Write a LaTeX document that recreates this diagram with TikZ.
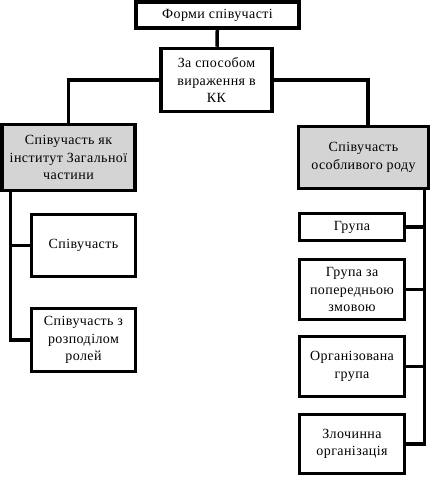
\documentclass[tikz,border=0pt]{standalone}
\usepackage{fontspec}
\setmainfont{Liberation Serif}[LetterSpace=3]
\begin{document}
\begin{tikzpicture}[x=1pt,y=-1pt,
  box/.style={draw=black,line width=3.5pt,fill=white,align=center,inner sep=1pt,
    font=\fontsize{14}{17.5}\selectfont},
  greybox/.style={box,fill={rgb,255:red,212;green,212;blue,212}},
  conn/.style={draw=black,line width=3.5pt}]
\useasboundingbox (0,0) rectangle (436,477);
\node[box,minimum width=163pt,minimum height=26pt] (b1) at (217.5,15) {Форми співучасті};
\node[box,minimum width=111pt,minimum height=63pt] (b2) at (216.5,80) {За способом\\вираження в\\КК};
\node[greybox,minimum width=133pt,minimum height=66pt] (b3) at (68.5,157.5) {Співучасть як\\інститут Загальної\\частини};
\node[greybox,minimum width=130pt,minimum height=62pt] (b4) at (363.5,157.5) {Співучасть\\особливого роду};
\node[box,minimum width=104pt,minimum height=62pt] (b5) at (83.5,245.5) {Співучасть};
\node[box,minimum width=104pt,minimum height=63pt] (b6) at (83.5,340) {Співучасть з\\розподілом\\ролей};
\node[box,minimum width=105pt,minimum height=27pt] (b7) at (352,227) {Група};
\node[box,minimum width=105pt,minimum height=60pt] (b8) at (352,289.5) {Група за\\попередньою\\змовою};
\node[box,minimum width=105pt,minimum height=60pt] (b9) at (352,366.5) {Організована\\група};
\node[box,minimum width=105pt,minimum height=59pt] (b10) at (352,444) {Злочинна\\організація};
\coordinate (ls) at ([xshift=10pt]b3.south west);
\coordinate (rs) at ([xshift=-6pt]b4.south east);
\draw[conn] (b1) -- (b2);
\draw[conn] (b2.west) -| (b3.north);
\draw[conn] (b2.east) -| ([xshift=4.5pt]b4.north);
\draw[conn] (ls) |- (b6.west);
\draw[conn] (b5.west) -- (b5.west -| ls);
\draw[conn] (rs) |- (b10.east);
\draw[conn] (b7.east) -- (b7.east -| rs);
\draw[conn] (b8.east) -- (b8.east -| rs);
\draw[conn] (b9.east) -- (b9.east -| rs);
\end{tikzpicture}
\end{document}
